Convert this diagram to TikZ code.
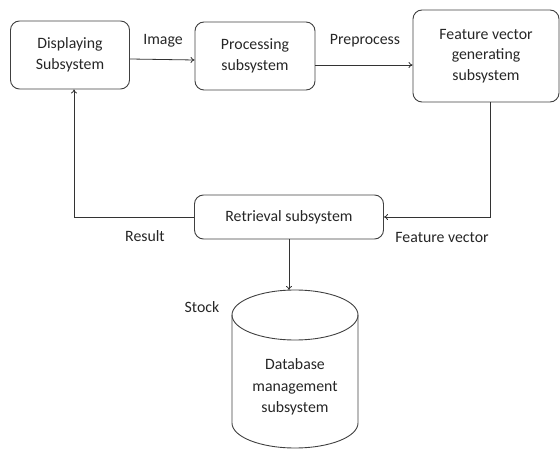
\documentclass[tikz,border=0pt]{standalone}
\usepackage{fontspec}
\setmainfont{Carlito}
\usetikzlibrary{arrows.meta}
\begin{document}
\begin{tikzpicture}[x=1pt,y=-1pt,
    every node/.style={font=\fontsize{15.8}{20.5}\selectfont,text=black!85},
    sub/.style={draw=black!75,line width=0.9pt,rounded corners=9pt,align=center,inner sep=0pt},
    lbl/.style={inner sep=0pt},
    link/.style={draw=black!80,line width=0.8pt},
    >={To[length=4pt,width=6pt]}]
  \useasboundingbox (0,0) rectangle (560,449);
  % boxes
  \node[sub,minimum width=119,minimum height=68] (disp) at (70,55) {Displaying\\Subsystem};
  \node[sub,minimum width=120,minimum height=68] (proc) at (255,56) {Processing\\subsystem};
  \node[sub,minimum width=146,minimum height=92] (feat) at (486,56) {Feature vector\\generating\\subsystem};
  \node[sub,minimum width=189,minimum height=44] (retr) at (289,217) {Retrieval subsystem};
  % database
  \draw[draw=black!75,line width=0.9pt] (295,315) ellipse [x radius=63,y radius=25];
  \draw[draw=black!75,line width=0.9pt] (232,315) -- (232,423)
    arc [start angle=180,end angle=0,x radius=63,y radius=25] -- (358,315);
  \coordinate (dbtop) at (289,290);
  \node[align=center] (db) at (295,387) {Database\\[1pt]management\\[1pt]subsystem};
  % labels
  \node[lbl] (image) at (163,41) {Image};
  \node[lbl] (prep) at (365,41) {Preprocess};
  \node[lbl] (result) at (145,236) {Result};
  \node[lbl] (fvec) at (442,237) {Feature vector};
  \node[lbl] (stock) at (202,307) {Stock};
  % connectors
  \begin{scope}[link]
    \draw[->] ([yshift=-4pt]disp.east) to ([yshift=-4pt]proc.west);
    \draw[->] ([yshift=-9pt]proc.east) to ([yshift=-9pt]feat.west);
    \draw[->] ([xshift=4pt]feat.south) |- (retr.east);
    \draw[->] (retr.west) -| ([xshift=4pt]disp.south);
    \draw[->] (retr.south) to (dbtop);
  \end{scope}
\end{tikzpicture}
\end{document}
